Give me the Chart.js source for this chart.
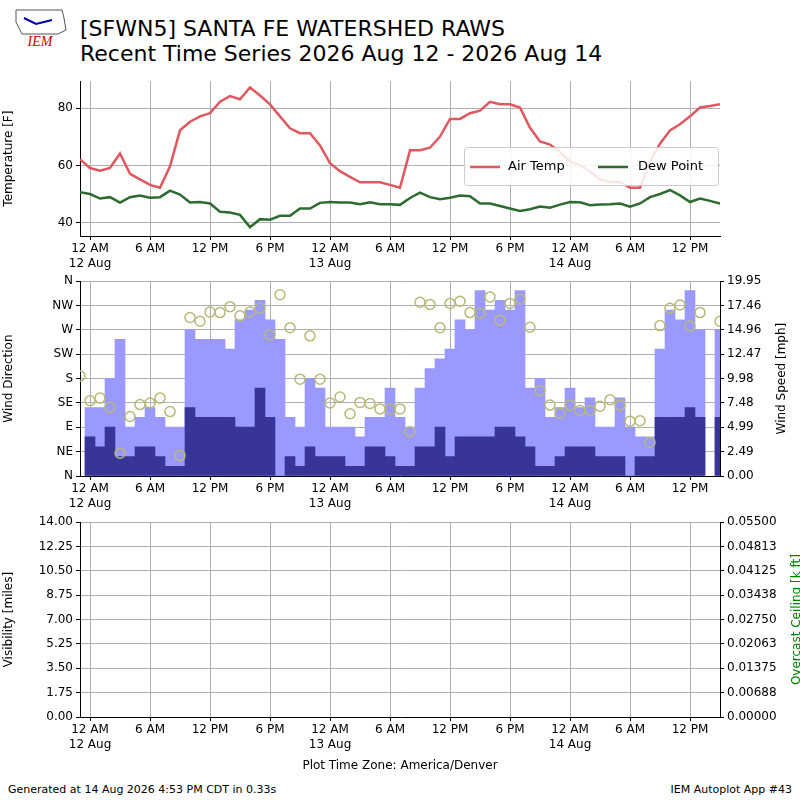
<!DOCTYPE html>
<html><head><meta charset="utf-8">
<script src="https://cdn.jsdelivr.net/npm/chart.js@4/dist/chart.umd.min.js"></script>
<style>
body{margin:0;width:800px;height:800px;background:#fff;position:relative;font-family:"DejaVu Sans";overflow:hidden}
.c{position:absolute;left:0;width:800px}
#t1{position:absolute;left:80px;top:16px;font-size:22px;line-height:25px;color:#000}
.f{position:absolute;top:783px;font-size:11px}
#logo{position:absolute;left:12px;top:8px;width:56px;height:40px}
</style></head><body>
<svg id="logo" viewBox="0 0 56 40"><path d="M4 2 L50 2 L52 10 L54 22 L46 26 L10 26 L4 14 Z" fill="none" stroke="#555" stroke-width="1"/><text x="28" y="38" font-size="14" font-style="italic" fill="#c00" text-anchor="middle" font-family="Liberation Serif">IEM</text><path d="M12 10 L24 16 L40 12" stroke="#00a" stroke-width="2" fill="none"/></svg>
<div id="t1">[SFWN5] SANTA FE WATERSHED RAWS<br>Recent Time Series 2026 Aug 12 - 2026 Aug 14</div>
<div class="c" style="top:71px;height:205px"><canvas id="c1"></canvas></div>
<div class="c" style="top:271px;height:245px"><canvas id="c2"></canvas></div>
<div class="c" style="top:512px;height:265px"><canvas id="c3"></canvas></div>
<div class="f" style="left:8px">Generated at 14 Aug 2026 4:53 PM CDT in 0.33s</div>
<div class="f" style="right:8px">IEM Autoplot App #43</div>
<script>
// hours since 11 PM 11 Aug
const airTemp=[62.1,59.1,58.2,59.1,64.2,57.1,55.1,53.2,52.2,59.7,72.3,75.3,77.2,78.3,82.3,84.3,83.2,87.3,84.5,81.4,77.2,73,71.3,71.3,67,60.8,58,56,54.1,54.1,54.1,53.2,52.2,65.3,65.3,66.2,70.1,76.3,76.3,78.3,79.2,82.3,81.4,81.4,80.3,73.2,68.4,67.3,64.7,61.4,60,58,55.1,54.2,54.2,52.2,52.2,61.4,67.6,72.3,74.4,77.2,80.3,80.8,81.4];
const dewPoint=[50.6,50,48.4,48.9,47,48.9,49.5,48.7,48.9,51.2,49.8,47,47.2,46.7,43.8,43.5,42.7,38.4,41.2,41,42.4,42.4,44.9,44.9,46.9,47.2,47,47,46.4,47.1,46.4,46.4,46.2,48.6,50.5,48.9,48.2,48.7,49.5,49.2,46.7,46.7,45.8,44.9,44.1,44.7,45.6,45.2,46.3,47.2,47.1,46.1,46.3,46.4,46.7,45.6,46.7,48.9,50,51.4,49.5,47.2,48.4,47.6,46.7];
const windGust=[null,7,7,10,14,5,6,7,6,5,5,15,14,14,14,13,16,17,18,16,14,6,5,10,9,5,5,5,4,6,6,9,6,5,9,11,12,13,16,15,19,17,18,17,19,9,10,6,7,9,7,8,5,5,8,5,4,4,13,17,16,19,15,null,15];
const windSpeed=[null,4,3,5,2,2,3,3,2,1,1,7,6,6,6,6,5,5,9,6,0,2,1,3,2,2,2,1,1,3,3,2,1,1,3,3,5,2,4,4,4,4,5,5,4,3,1,1,2,3,3,3,2,2,2,0,2,2,6,6,6,7,6,null,6];
const windDir=[185,139,144,127,42,110,132,135,144,119,38,293,286,303,302,313,296,303,310,261,335,274,179,259,179,135,146,115,136,134,124,124,124,82,321,317,274,319,323,302,301,331,288,319,327,275,158,131,116,131,121,121,129,141,131,101,102,62,278,310,316,277,302,null,286];
const tickHours=[1,7,13,19,25,31,37,43,49,55,61];
const timeLabels=[["12 AM","12 Aug"],"6 AM","12 PM","6 PM",["12 AM","13 Aug"],"6 AM","12 PM","6 PM",["12 AM","14 Aug"],"6 AM","12 PM"];
const dirLabels=["N","NE","E","SE","S","SW","W","NW","N"];
const speedLabels=["0.00","2.49","4.99","7.48","9.98","12.47","14.96","17.46","19.95"];
const visLabels=["0.00","1.75","3.50","5.25","7.00","8.75","10.50","12.25","14.00"];
const ceilLabels=["0.00000","0.00688","0.01375","0.02063","0.02750","0.03438","0.04125","0.04813","0.05500"];

Chart.defaults.font.family="DejaVu Sans";Chart.defaults.font.size=12;Chart.defaults.color="#000";
Chart.defaults.animation=false;Chart.defaults.responsive=true;Chart.defaults.maintainAspectRatio=false;
const grid={color:"#b0b0b0",tickColor:"#000",tickLength:4,drawTicks:true,offset:false};
const border={color:"#000",width:1};
function xAxis(h,title){return {type:"linear",min:0,max:64,offset:false,grid:grid,border:border,
 afterBuildTicks:s=>{s.ticks=tickHours.map(v=>({value:v}));},
 ticks:{autoSkip:false,maxRotation:0,padding:2,callback:(v,i)=>timeLabels[i]},
 afterFit:s=>{s.height=h;},title:title?{display:true,text:title,padding:{top:0}}:{display:false}};}
function yAxis(pos,min,max,labels,title,w,showGrid){return {position:pos,min:min,max:max,
 grid:Object.assign({},grid,{drawOnChartArea:showGrid}),border:border,
 afterBuildTicks:s=>{s.ticks=labels.map((l,i)=>({value:min+(max-min)*i/(labels.length-1)}));},
 ticks:{autoSkip:false,padding:3,callback:(v,i)=>labels[i]},
 title:{display:!!title,text:title,padding:2},afterFit:s=>{s.width=w;}};}
const pts=a=>a.map((v,i)=>({x:i,y:v}));
function rightTitle(text,x,color){return {id:"rt",afterDraw(c){const g=c.ctx,a=c.chartArea;g.save();
 g.translate(x,(a.top+a.bottom)/2);g.rotate(-Math.PI/2);g.fillStyle=color;g.font="12px DejaVu Sans";
 g.textAlign="center";g.textBaseline="middle";g.fillText(text,0,0);g.restore();}};}

const legendPlugin={id:"lg",afterDraw(c){const x=c.ctx;x.save();
 x.fillStyle="rgba(255,255,255,0.85)";x.strokeStyle="#ccc";x.lineWidth=1;
 x.beginPath();x.roundRect(464.5,76.5,254,38,3);x.fill();x.stroke();
 x.lineWidth=2.5;x.strokeStyle="#e0585f";x.beginPath();x.moveTo(470,96);x.lineTo(500,96);x.stroke();
 x.strokeStyle="#2e6b30";x.beginPath();x.moveTo(598,96);x.lineTo(628,96);x.stroke();
 x.fillStyle="#000";x.font="13px DejaVu Sans";x.textBaseline="middle";x.fillText("Air Temp",508,96);x.fillText("Dew Point",638,96);x.restore();}};

new Chart(document.getElementById("c1"),{type:"line",
 data:{datasets:[{data:pts(airTemp),borderColor:"#e0585f",borderWidth:2.5,pointRadius:0},
  {data:pts(dewPoint),borderColor:"#2e6b30",borderWidth:2.5,pointRadius:0}]},
 options:{layout:{padding:{top:5,right:80,left:0,bottom:0}},plugins:{legend:{display:false},tooltip:{enabled:false}},
  scales:{x:xAxis(40),y:Object.assign(yAxis("left",35.3,89.5,["40","60","80"],"Temperature [F]",80,true),
   {afterBuildTicks:s=>{s.ticks=[40,60,80].map(v=>({value:v}));},ticks:{padding:3,callback:v=>String(v)}})}},
 plugins:[legendPlugin]});

new Chart(document.getElementById("c2"),{
 data:{datasets:[
  {type:"line",data:pts(windDir),yAxisID:"y",showLine:false,pointRadius:5,pointBorderWidth:1.5,pointBorderColor:"#b8b878",pointBackgroundColor:"rgba(0,0,0,0)",order:0},
  {type:"bar",data:pts(windSpeed),yAxisID:"y1",backgroundColor:"#373597",barPercentage:1,categoryPercentage:1,grouped:false,order:1},
  {type:"bar",data:pts(windGust),yAxisID:"y1",backgroundColor:"#9999ff",barPercentage:1,categoryPercentage:1,grouped:false,order:2}]},
 options:{layout:{padding:{top:5}},plugins:{legend:{display:false},tooltip:{enabled:false}},
  scales:{x:xAxis(40),y:yAxis("left",0,360,dirLabels,"Wind Direction",80,true),
   y1:yAxis("right",0,19.95,speedLabels,"",80,false)}},
 plugins:[rightTitle("Wind Speed [mph]",782,"#000")]});

new Chart(document.getElementById("c3"),{type:"line",data:{datasets:[{data:[],yAxisID:"y"},{data:[],yAxisID:"y1"}]},
 options:{layout:{padding:{top:5}},plugins:{legend:{display:false},tooltip:{enabled:false}},
  scales:{x:xAxis(60,"Plot Time Zone: America/Denver"),y:yAxis("left",0,14,visLabels,"Visibility [miles]",80,true),
   y1:yAxis("right",0,0.055,ceilLabels,"",80,false)}},
 plugins:[rightTitle("Overcast Ceiling [k ft]",797,"#008000")]});
</script></body></html>
